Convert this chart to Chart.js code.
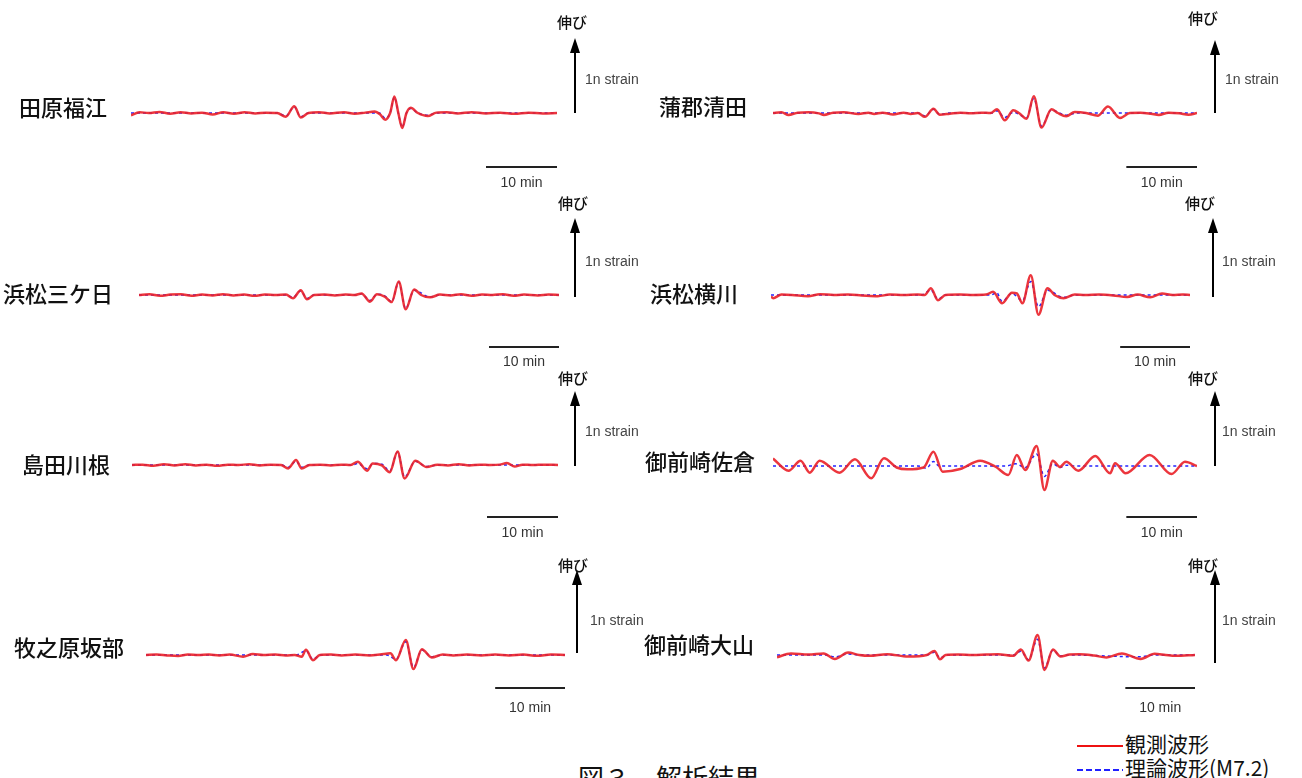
<!DOCTYPE html>
<html>
<head>
<meta charset="utf-8">
<script src="https://cdn.jsdelivr.net/npm/chart.js@4.4.1/dist/chart.umd.min.js"></script>
<style>
  body { margin: 0; background: #fff; width: 1302px; height: 778px; overflow: hidden; position: relative;
         font-family: "Noto Sans CJK JP", sans-serif; }
  canvas { position: absolute; }
  #title { position: absolute; left: 578px; top: 762px; font-size: 26px; line-height: 30px; white-space: pre; color: #111; }
  .lg { position: absolute; left: 1077px; font-size: 21px; line-height: 24px; color: #111; white-space: nowrap; }
  .lg i { display: inline-block; width: 46px; height: 2px; vertical-align: middle; margin-right: 2px; }
</style>
</head>
<body>
<div id="title">図３　解析結果</div>
<div class="lg" style="top:731px"><i style="background:#ee1111"></i>観測波形</div>
<div class="lg" style="top:755px"><i style="background:repeating-linear-gradient(to right,#2020ff 0 6px,transparent 6px 9px)"></i>理論波形(M7.2)</div>

<script>
// station names (order: left/right per row)
const stations = ['田原福江', '蒲郡清田', '浜松三ケ日', '浜松横川', '島田川根', '御前崎佐倉', '牧之原坂部', '御前崎大山'];
const timeRange = [0, 60];      // minutes shown in each trace
const scaleBarMinutes = 10;
const strainArrow = 1;          // n strain
const nobiLabel = '伸び';
const strainLabel = '1n strain';
const barLabel = '10 min';

// [minutes, n strain] turning points
const taharaObs = [[0,-0.03],[1.2,0.01],[2.5,0],[4,0.015],[5.5,-0.01],[7,0.01],[8.5,-0.005],[10,0.005],[11.5,-0.02],[13,0.01],[14.5,-0.01],[16,0.01],[17.5,-0.005],[19,0.005],[20.6,0],[21.8,-0.05],[23.0,0.09],[23.9,-0.06],[25,0],[26.5,0.01],[28,-0.005],[30,0.01],[31.5,-0.01],[33,0.005],[34.3,0.02],[35.1,-0.02],[35.8,-0.09],[36.5,0],[37.1,0.22],[37.65,0],[38.2,-0.2],[38.8,0],[39.4,0.07],[40.4,0],[41.8,-0.04],[43,0.005],[44.5,0.01],[46,-0.005],[48,0.01],[50,-0.005],[52,0.005],[54,-0.01],[56,0.005],[58,-0.005],[60,0]];
const taharaTheo = [[0,0],[20.6,0],[21.8,-0.04],[23.0,0.08],[23.9,-0.05],[25,0],[35,0],[35.8,-0.07],[36.5,0],[37.1,0.21],[37.65,0],[38.2,-0.19],[38.8,0],[39.4,0.06],[40.4,0],[41.8,-0.03],[43,0],[60,0]];

const gamagoriObs = [[0,0],[1.2,0.01],[2.2,-0.027],[3.5,0.005],[5,0.01],[6.5,-0.005],[7.2,-0.027],[8.5,0.005],[10,0.01],[12.1,-0.013],[13.5,0.005],[14.3,-0.013],[15.5,0.005],[17.0,-0.02],[18.5,0.005],[19.5,-0.013],[20.5,0],[21.5,-0.053],[22.7,0.057],[23.6,-0.023],[25.0,-0.01],[26.5,0.005],[28,-0.005],[29.5,0.005],[30.8,0],[31.7,0.053],[32.8,-0.10],[34.0,0.036],[34.8,0.0],[35.9,-0.08],[36.9,0.23],[38.0,-0.20],[39.4,0.053],[40.3,0],[41.5,-0.044],[42.7,0.013],[44.3,0],[46.0,-0.036],[47.4,0.089],[49.1,-0.067],[50.5,0],[52,0.005],[53.5,-0.01],[54.6,-0.027],[56,0.005],[57.5,-0.005],[58.8,-0.025],[60,0]];
const gamagoriTheo = [[0,0],[20.5,0],[21.5,-0.04],[22.7,0.05],[23.6,-0.02],[25,0],[31,0],[31.7,0.03],[32.8,-0.06],[34,0.01],[35.9,-0.06],[36.9,0.2],[38,-0.18],[39.4,0.04],[41.5,-0.03],[43,0],[60,0]];

const mikkabiObs = [[0,0],[1.5,0.01],[3,-0.01],[4.5,0.005],[6,0.01],[7.5,-0.01],[9,0.005],[10.5,-0.005],[12,0.01],[13.5,-0.005],[15,0.005],[16.5,-0.01],[18,0.005],[19.5,0],[21,0.005],[22.0,-0.04],[23.1,0.06],[24.0,-0.055],[25,0],[26.5,0.005],[28,-0.005],[29.5,0.005],[30.8,0],[31.8,0.02],[33.0,-0.085],[34.0,0.01],[35.1,-0.02],[36.1,-0.09],[37.1,0.17],[38.1,-0.18],[39.3,0.07],[40.3,0],[41.6,-0.03],[43.0,0.005],[44.5,-0.005],[46,0.01],[47.5,-0.01],[49,0.005],[50.5,0],[52,0.01],[53.5,-0.01],[55,0.005],[57,-0.005],[58.5,0.005],[60,0]];
const mikkabiTheo = [[0,0],[21,0],[22.0,-0.03],[23.1,0.05],[24.0,-0.045],[25,0],[31,0],[31.8,0.015],[33.0,-0.07],[34.0,0.01],[35.1,-0.01],[36.1,-0.085],[37.1,0.16],[38.1,-0.17],[39.3,0.06],[41.6,-0.025],[43,0],[60,0]];

const yokokawaObs = [[0,-0.02],[0.3,-0.04],[1.5,0.005],[3,0],[5.3,-0.015],[7,0.01],[9,0],[11,0.005],[13,-0.005],[15.3,-0.015],[17,0.005],[19,0],[21,0.005],[22.0,0],[22.9,0.085],[23.9,-0.065],[25,0],[27,0.005],[29,0],[30.8,0.005],[31.8,0.04],[33.1,-0.105],[34.5,0.03],[35.2,0.02],[36.0,-0.105],[37.2,0.25],[38.3,-0.25],[39.6,0.085],[40.6,0],[41.9,-0.04],[43.5,0.005],[45,0],[47,0.005],[49,-0.005],[51.0,-0.025],[52.5,0.005],[54.3,-0.03],[56.0,0.02],[57.5,0],[59,0.005],[60,0]];
const yokokawaTheo = [[0,0],[21.5,0],[22.9,0.06],[23.9,-0.05],[25,0],[31.5,0],[32.3,0.03],[33.1,-0.08],[34.5,0.02],[36.0,-0.07],[37.2,0.17],[38.3,-0.15],[39.6,0.06],[41.9,-0.03],[43.5,0],[60,0]];

const kawaneObs = [[0,0],[1.5,0.005],[3,-0.01],[4.5,0.01],[6,-0.005],[7.5,0.01],[9,-0.005],[10.5,0.005],[12,-0.01],[13.5,0.005],[15,0],[16.5,0.01],[18,-0.005],[19.5,0.005],[21,0],[22.0,-0.045],[23.1,0.067],[23.9,-0.045],[25,0],[26.5,0.005],[28,-0.005],[29.5,0.005],[30.8,0],[31.8,0.045],[33.1,-0.076],[33.9,0.02],[35.2,-0.005],[36.3,-0.097],[37.4,0.18],[38.4,-0.18],[39.9,0.057],[41.5,-0.027],[43,0.005],[44.5,-0.005],[46,0.01],[47.5,-0.005],[49,0.005],[50.5,0],[51.8,0.005],[52.8,0.027],[53.9,-0.02],[55,0.005],[56.5,0],[58,0.005],[60,0]];
const kawaneTheo = [[0,0],[21,0],[22.0,-0.03],[23.1,0.05],[23.9,-0.03],[25,0],[31,0],[31.8,0.02],[33.1,-0.05],[34,0.02],[35.2,0.01],[36.3,-0.08],[37.4,0.17],[38.4,-0.16],[39.9,0.05],[41.5,-0.02],[43,0],[60,0]];

const sakuraObs = [[0,0.10],[2.2,-0.063],[3.9,0.071],[5.2,-0.089],[6.6,0.071],[9.4,-0.089],[11.6,0.089],[13.9,-0.164],[15.7,0.103],[17.5,-0.02],[19.0,-0.044],[21.3,-0.02],[22.7,0.19],[24.0,-0.076],[26.5,-0.04],[29.3,0.071],[31.5,-0.01],[33.3,-0.12],[34.5,0.147],[35.7,-0.053],[37.3,0.267],[38.4,-0.32],[39.6,0.071],[40.6,-0.013],[41.5,0.057],[43.2,-0.063],[45.6,0.133],[47.7,-0.097],[48.4,0.036],[49.9,-0.097],[53.3,0.147],[56.4,-0.107],[58.3,0.057],[60,0]];
const sakuraTheo = [[0,0],[20.5,0],[21.7,-0.03],[22.7,0.06],[23.5,0],[33,0],[34.3,0.03],[35.7,-0.02],[37.3,0.16],[38.4,-0.14],[39.6,0.03],[40.6,-0.02],[41.5,0.01],[43,0],[60,0]];

const sakabeObs = [[0,0],[1.5,0.005],[3,-0.005],[4.6,-0.012],[6,0.005],[7.5,0],[9,0.005],[10.5,-0.005],[12,0.005],[13.9,-0.02],[15.3,0.012],[16.8,0],[18.5,0.005],[20,-0.005],[21.3,0],[22.3,-0.02],[22.9,0.063],[23.9,-0.063],[24.9,0],[26.5,0.005],[28,-0.005],[30,0.005],[32,-0.005],[33.5,0.005],[35.0,0.02],[35.8,-0.063],[37.2,0.18],[38.3,-0.17],[39.5,0.07],[40.9,-0.03],[42.5,0.005],[44,-0.005],[46,0.005],[48,-0.005],[50,0.005],[52,-0.005],[54,0.005],[56,-0.01],[58,0.005],[60,0]];
const sakabeTheo = [[0,0],[21.5,0],[22.9,0.05],[23.9,-0.05],[25,0],[34.5,0],[35.8,-0.05],[37.2,0.16],[38.3,-0.15],[39.5,0.06],[40.9,-0.02],[42.5,0],[60,0]];

const oyamaObs = [[0,-0.025],[2.0,0.017],[4.5,0.005],[6.7,0.017],[8.3,-0.043],[10.2,0.026],[11.8,0],[13.3,-0.009],[15.8,0.009],[18.8,-0.017],[21.5,0],[22.6,0.043],[23.4,-0.047],[24.2,0],[26,0.005],[28.1,0],[30,0.005],[31.7,0.009],[33.9,-0.009],[35.0,0.06],[36.1,-0.06],[37.4,0.215],[38.4,-0.16],[39.6,0.06],[40.7,-0.017],[42,0.005],[43.4,0.009],[45.5,-0.005],[47.3,-0.026],[49.5,0.017],[52.2,-0.043],[54.2,0.013],[55.8,0],[57.2,-0.009],[60,0]];
const oyamaTheo = [[0,0],[7,0],[8.3,-0.02],[10,0.01],[12,0],[21.5,0],[22.6,0.03],[23.4,-0.03],[24.5,0],[34,0],[35.0,0.04],[36.1,-0.05],[37.4,0.17],[38.4,-0.14],[39.6,0.05],[40.7,-0.01],[42,0],[52.2,-0.02],[54,0],[60,0]];

const observed = [taharaObs, gamagoriObs, mikkabiObs, yokokawaObs, kawaneObs, sakuraObs, sakabeObs, oyamaObs];
const theoretical = [taharaTheo, gamagoriTheo, mikkabiTheo, yokokawaTheo, kawaneTheo, sakuraTheo, sakabeTheo, oyamaTheo];

// page layout of each panel (pixels)
const layout = [
  {col:0, x0:131, x1:557, base:113, tip:38,  foot:113, ax:575,  nameX:19,  nameY:108, nobiX:572,  nobiY:22,  strainX:585,  strainY:80,  barY:167, barTextY:183},
  {col:1, x0:773, x1:1197, base:113, tip:40, foot:113, ax:1215, nameX:659, nameY:107, nobiX:1203, nobiY:18,  strainX:1225, strainY:80,  barY:167, barTextY:183},
  {col:0, x0:139, x1:559, base:295, tip:218, foot:297, ax:575,  nameX:3,   nameY:294, nobiX:573,  nobiY:203, strainX:585,  strainY:262, barY:347, barTextY:362},
  {col:1, x0:771, x1:1190, base:295, tip:218, foot:297, ax:1213, nameX:650, nameY:294, nobiX:1200, nobiY:203, strainX:1222, strainY:262, barY:347, barTextY:362},
  {col:0, x0:132, x1:558, base:465, tip:391, foot:466, ax:575,  nameX:22,  nameY:465, nobiX:573,  nobiY:378, strainX:585,  strainY:432, barY:517, barTextY:533},
  {col:1, x0:773, x1:1197, base:466, tip:391, foot:466, ax:1215, nameX:645, nameY:462, nobiX:1203, nobiY:378, strainX:1222, strainY:432, barY:517, barTextY:533},
  {col:0, x0:146, x1:565, base:655, tip:570, foot:653, ax:577,  nameX:14,  nameY:648, nobiX:573,  nobiY:565, strainX:590,  strainY:621, barY:688, barTextY:708},
  {col:1, x0:777, x1:1195, base:655, tip:570, foot:663, ax:1215, nameX:644, nameY:645, nobiX:1203, nobiY:565, strainX:1222, strainY:621, barY:688, barTextY:708}
];

const toPoints = arr => arr.map(p => ({x: p[0], y: p[1]}));

function makePanel(i) {
  const p = layout[i];
  const cvLeft = p.col ? 640 : 0;
  const cvW = p.col ? 662 : 660;
  const cvTop = p.base - 115;
  const cvH = 215;
  const L = p.foot - p.tip;          // pixels for 1 n strain
  const arrowFrom = (p.base - p.foot) / L;

  const cv = document.createElement('canvas');
  cv.width = cvW; cv.height = cvH;
  cv.style.left = cvLeft + 'px';
  cv.style.top = cvTop + 'px';
  document.body.appendChild(cv);

  // station name, arrow, scale bar
  const decor = {
    id: 'decor',
    afterDatasetsDraw(chart) {
      const ctx = chart.ctx;
      const xs = chart.scales.x, ys = chart.scales.y;
      ctx.save();
      ctx.fillStyle = '#111';
      ctx.textBaseline = 'middle';
      ctx.textAlign = 'left';
      ctx.font = '500 22px "Noto Sans CJK JP"';
      ctx.fillText(stations[i], p.nameX - cvLeft, p.nameY - cvTop);

      // arrow = 1 n strain
      const yFoot = ys.getPixelForValue(arrowFrom);
      const yTip = ys.getPixelForValue(arrowFrom + strainArrow);
      const ax = p.ax - cvLeft;
      ctx.strokeStyle = '#000';
      ctx.lineWidth = 2;
      ctx.beginPath();
      ctx.moveTo(ax, yFoot);
      ctx.lineTo(ax, yTip + 10);
      ctx.stroke();
      ctx.fillStyle = '#000';
      ctx.beginPath();
      ctx.moveTo(ax, yTip);
      ctx.lineTo(ax - 5, yTip + 15);
      ctx.lineTo(ax + 5, yTip + 15);
      ctx.closePath();
      ctx.fill();

      ctx.fillStyle = '#111';
      ctx.textAlign = 'center';
      ctx.font = '500 15px "Noto Sans CJK JP"';
      ctx.fillText(nobiLabel, p.nobiX - cvLeft, p.nobiY - cvTop);

      ctx.fillStyle = '#444';
      ctx.textAlign = 'left';
      ctx.font = '14px "Liberation Sans", Arial, sans-serif';
      ctx.fillText(strainLabel, p.strainX - cvLeft, p.strainY - cvTop);

      // 10 min scale bar, right end on the trace end
      const bx0 = xs.getPixelForValue(timeRange[1] - scaleBarMinutes);
      const bx1 = xs.getPixelForValue(timeRange[1]);
      ctx.strokeStyle = '#222';
      ctx.lineWidth = 2;
      ctx.beginPath();
      ctx.moveTo(bx0, p.barY - cvTop);
      ctx.lineTo(bx1, p.barY - cvTop);
      ctx.stroke();
      ctx.fillStyle = '#333';
      ctx.textAlign = 'center';
      ctx.fillText(barLabel, (bx0 + bx1) / 2, p.barTextY - cvTop);
      ctx.restore();
    }
  };

  new Chart(cv, {
    type: 'line',
    data: {
      datasets: [
        {
          label: '観測波形',
          data: toPoints(observed[i]),
          borderColor: 'rgba(234,32,40,0.9)',
          borderWidth: 2.5,
          pointRadius: 0,
          cubicInterpolationMode: 'monotone',
          fill: false
        },
        {
          label: '理論波形(M7.2)',
          data: toPoints(theoretical[i]),
          borderColor: '#2424ff',
          borderWidth: 1.5,
          borderDash: [3, 3],
          pointRadius: 0,
          cubicInterpolationMode: 'monotone',
          fill: false
        }
      ]
    },
    options: {
      responsive: false,
      animation: false,
      devicePixelRatio: 1,
      layout: {
        padding: {
          left: p.x0 - cvLeft,
          right: cvLeft + cvW - p.x1,
          top: p.base - L / 2 - cvTop,
          bottom: cvTop + cvH - (p.base + L / 2)
        }
      },
      scales: {
        x: { type: 'linear', min: timeRange[0], max: timeRange[1], display: false },
        y: { type: 'linear', min: -0.5, max: 0.5, display: false }
      },
      plugins: { legend: { display: false }, tooltip: { enabled: false } }
    },
    plugins: [decor]
  });
}

for (let i = 0; i < stations.length; i++) makePanel(i);
</script>
</body>
</html>
